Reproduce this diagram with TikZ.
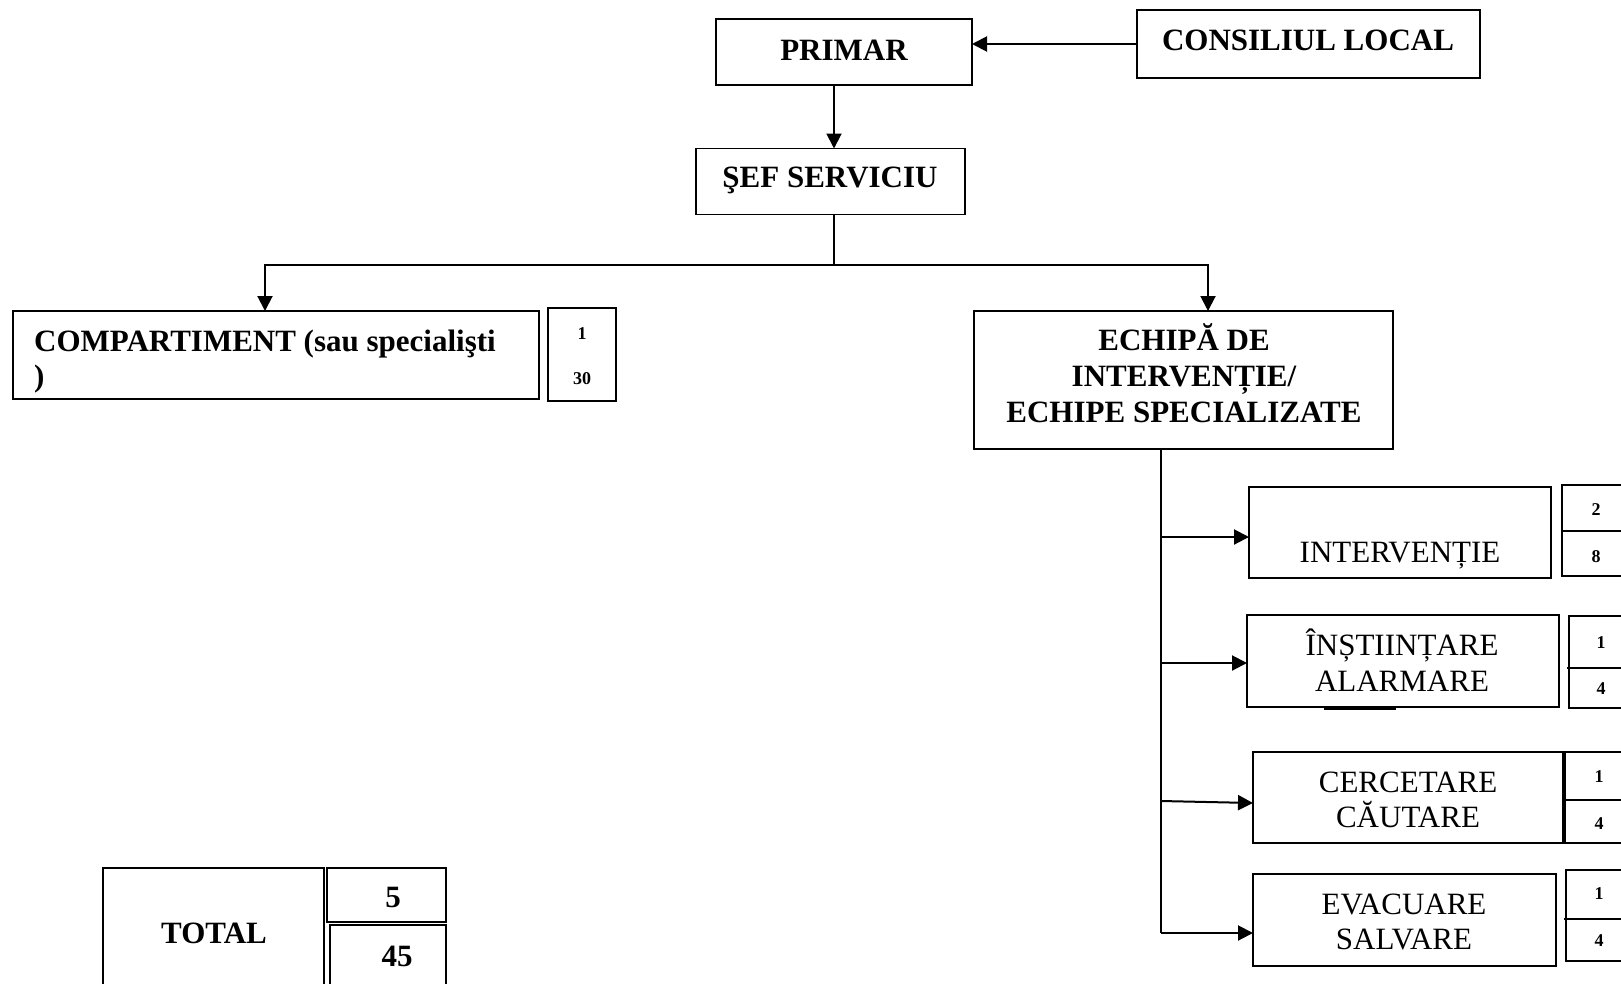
\documentclass[tikz,border=0pt]{standalone}
\usepackage{fontspec}
\setmainfont{Liberation Serif}
\usetikzlibrary{arrows.meta}
\begin{document}
\begin{tikzpicture}[x=1pt,y=-1pt,
 box/.style={draw, line width=1.2pt, rectangle, inner sep=0pt, outer sep=0pt},
 arr/.style={line width=2pt, -{Triangle[length=15pt,width=15pt]}},
 ln/.style={line width=2pt},
 bt/.style={font=\fontsize{31}{36}\selectfont\bfseries, inner sep=0pt, text height=20.5pt, text depth=0pt},
 rt/.style={font=\fontsize{31}{36}\selectfont, inner sep=0pt, text height=20.5pt, text depth=0pt},
 nt/.style={font=\fontsize{18}{20}\selectfont\bfseries, inner sep=0pt, text height=12.2pt, text depth=0pt},
]
\useasboundingbox (0,0) rectangle (1621,983);
\clip (0,0) rectangle (1621,983);

% boxes
\node[box, minimum width=256pt, minimum height=66pt] (primar) at (844,52) {};
\node[box, minimum width=343pt, minimum height=68pt] (consiliul) at (1308.5,44) {};
\node[box, minimum width=269pt, minimum height=66pt] (sef) at (830.5,181.5) {};
\node[box, minimum width=526pt, minimum height=88pt] (comp) at (276,355) {};
\node[box, minimum width=68pt, minimum height=93pt] (compn) at (582,354.5) {};
\node[box, minimum width=419pt, minimum height=138pt] (echipa) at (1183.5,380) {};
\node[box, minimum width=302pt, minimum height=91pt] (interv) at (1400,532.5) {};
\node[box, minimum width=69pt, minimum height=91pt] (s1) at (1596.5,530.5) {};
\node[box, minimum width=312pt, minimum height=92pt] (inst) at (1403,661) {};
\node[box, minimum width=64pt, minimum height=92pt] (s2) at (1601,662) {};
\node[box, minimum width=310pt, minimum height=91pt] (cerc) at (1408,797.5) {};
\node[box, minimum width=68pt, minimum height=91pt] (s3) at (1599,797.5) {};
\node[box, minimum width=303pt, minimum height=92pt] (evac) at (1404.5,920) {};
\node[box, minimum width=66pt, minimum height=91pt] (s4) at (1599,915.5) {};
\node[box, minimum width=221pt, minimum height=130pt] (total) at (213.5,933) {};
\node[box, minimum width=119pt, minimum height=54pt] (t5) at (386.5,895) {};
\node[box, minimum width=116pt, minimum height=65pt] (t45) at (388,957.5) {};

% dividers in small boxes
\coordinate (d1) at (1561,531);
\coordinate (d2) at (1567,668);
\coordinate (d3) at (1563,800);
\coordinate (d4) at (1564,919);
\draw[line width=1.2pt] (d1) -- (d1 -| s1.east);
\draw[line width=1.2pt] (d2) -- (d2 -| s2.east);
\draw[line width=1.2pt] (d3) -- (d3 -| s3.east);
\draw[line width=1.2pt] (d4) -- (d4 -| s4.east);

% stray rule under ALARMARE
\coordinate (u1) at (1324,709);
\coordinate (u2) at (1396,709);
\draw[line width=2pt] (u1) -- (u2);

% texts
\node[bt] (primar-t) at (844,50) {PRIMAR};
\node[bt] (consiliul-t) at (1308,40) {CONSILIUL LOCAL};
\node[bt] (sef-t) at (830,177) {ŞEF SERVICIU};
\node[bt, anchor=west] (comp-t1) at (34,341) {COMPARTIMENT (sau specialişti};
\node[bt, anchor=west] (comp-t2) at (34,376) {)};
\node[nt] (compn-a) at (582,333) {1};
\node[nt] (compn-b) at (582,378) {30};
\node[bt] (echipa-t1) at (1184,340) {ECHIPĂ DE};
\node[bt] (echipa-t2) at (1184,376) {INTERVENȚIE/};
\node[bt] (echipa-t3) at (1184,412) {ECHIPE SPECIALIZATE};
\node[rt] (interv-t) at (1400,552) {INTERVENȚIE};
\node[nt] (s1-a) at (1596,509) {2};
\node[nt] (s1-b) at (1596,556) {8};
\node[rt] (inst-t1) at (1402,645) {ÎNȘTIINȚARE};
\node[rt] (inst-t2) at (1402,681) {ALARMARE};
\node[nt] (s2-a) at (1601,642) {1};
\node[nt] (s2-b) at (1601,688) {4};
\node[rt] (cerc-t1) at (1408,782) {CERCETARE};
\node[rt] (cerc-t2) at (1408,817) {CĂUTARE};
\node[nt] (s3-a) at (1599,776) {1};
\node[nt] (s3-b) at (1599,823) {4};
\node[rt] (evac-t1) at (1404,904) {EVACUARE};
\node[rt] (evac-t2) at (1404,939) {SALVARE};
\node[nt] (s4-a) at (1599,893) {1};
\node[nt] (s4-b) at (1599,940) {4};
\node[bt] (total-t) at (214,933) {TOTAL};
\node[bt] (t5-t) at (393,897) {5};
\node[bt] (t45-t) at (397,956) {45};

% connectors
\draw[arr] (consiliul.west) -- (consiliul.west -| primar.east);
\coordinate (c1) at (834,0);
\draw[arr] (primar.south -| c1) -- (sef.north -| c1);
\coordinate (j) at (834,265);
\coordinate (jl) at (265,265);
\coordinate (jr) at (1208,265);
\draw[ln] (sef.south -| j) -- (j);
\draw[arr] (j) -- (jl) -- (comp.north -| jl);
\draw[arr] (j) -- (jr) -- (echipa.north -| jr);

\coordinate (t1) at (1161,537);
\coordinate (t2) at (1161,663);
\coordinate (t3) at (1161,801);
\coordinate (t3e) at (1161,803);
\coordinate (t4) at (1161,933);
\draw[ln] (echipa.south -| t1) -- (t4);
\draw[arr] (t1) -- (t1 -| interv.west);
\draw[arr] (t2) -- (t2 -| inst.west);
\draw[arr] (t3) -- (t3e -| cerc.west);
\draw[arr] (t4) -- (t4 -| evac.west);
\end{tikzpicture}
\end{document}
